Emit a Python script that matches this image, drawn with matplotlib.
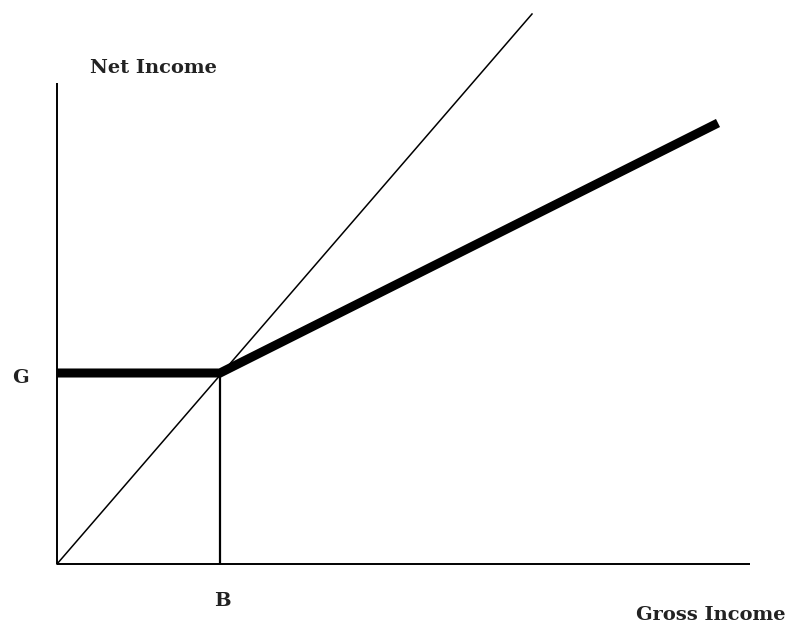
import matplotlib
matplotlib.use("Agg")
import matplotlib.pyplot as plt

# Conceptual units (origin at the axes corner)
B = 163          # gross income break point
G = 191          # guaranteed net income
x_axis_end = 693
y_axis_end = 481

# 45-degree-like reference line (net = gross)
ref_x = [0, 475]
ref_y = [0, 550]

# Net income schedule (thick)
net_x = [0, B, 661]
net_y = [G, G, 441]

fig = plt.figure(figsize=(7.9, 6.27), dpi=100)
ax = fig.add_axes([0, 0, 1, 1])
ax.set_xlim(-57, 733)
ax.set_ylim(-63, 564)
ax.axis("off")

# axes
ax.plot([0, 0], [0, y_axis_end], color="black", lw=1.4, solid_capstyle="butt")
ax.plot([0, x_axis_end], [0, 0], color="black", lw=1.4, solid_capstyle="butt")

# reference line
ax.plot(ref_x, ref_y, color="black", lw=1.1)
# vertical at B
ax.plot([B, B], [0, G], color="black", lw=1.6, solid_capstyle="butt")
# thick schedule
ax.plot(net_x, net_y, color="black", lw=6.5, solid_capstyle="butt", solid_joinstyle="miter")

font = dict(family=["DejaVu Serif"], fontweight="bold", fontsize=14, color="#222222")
ax.text(96, 496, "Net Income", ha="center", va="center", **font)
ax.text(-37, 186, "G", ha="center", va="center", **font)
ax.text(165, -37, "B", ha="center", va="center", **font)
ax.text(654, -51, "Gross Income", ha="center", va="center", **font)

fig.savefig("out.png", dpi=100)
